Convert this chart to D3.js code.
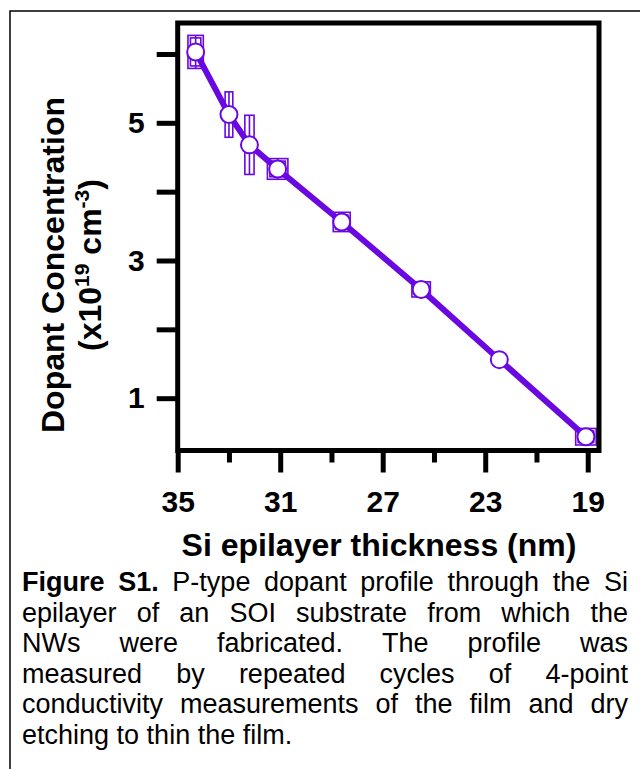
<!DOCTYPE html>
<html lang="en">
<head>
	<meta charset="UTF-8">
	<title>Dopant profile</title>
	<script src="https://d3js.org/d3.v7.min.js"></script>
	<style>
		body, html {
			margin: 0;
			padding: 0;
			background: #fff;
			overflow: hidden;
		}
		svg {
			display: block;
			font-family: "Liberation Sans", Arial, sans-serif;
		}
		.tick line {
			stroke: #000;
		}
		.tick text {
			font-weight: bold;
			fill: #000;
		}
	</style>
</head>
<body>
<div id="chart"></div>
	<script>
		// Values
		const thickness = [34.3, 33.0, 32.2, 31.1, 28.6, 25.5, 22.45, 19.07];
		const concentration = [6.03, 5.12, 4.68, 4.33, 3.56, 2.58, 1.56, 0.44];
		const thicknessErr = [0.3, 0.15, 0.18, 0.4, 0.33, 0.36, 0.2, 0.4];
		const concentrationErr = [0.24, 0.33, 0.43, 0.15, 0.14, 0.11, 0.06, 0.12];

		const xMajorTicks = [35, 31, 27, 23, 19];
		const xMinorTicks = [33, 29, 25, 21];
		const yTicks = [1, 2, 3, 4, 5, 6];
		const yLabelled = [1, 3, 5];

		const captionLines = [
			"Figure S1. P-type dopant profile through the Si",
			"epilayer of an SOI substrate from which the",
			"NWs were fabricated. The profile was",
			"measured by repeated cycles of 4-point",
			"conductivity measurements of the film and dry",
			"etching to thin the film."
		];

		const width = 640;
		const height = 769;
		const purple = "#6a08e2";

		const svg = d3.select("#chart")
			.append("svg")
			.attr("width", width)
			.attr("height", height);

		// outer figure border (runs off the right and bottom edges)
		svg.append("rect")
			.attr("x", 10)
			.attr("y", 11)
			.attr("width", 700)
			.attr("height", 800)
			.attr("fill", "none")
			.attr("stroke", "#000")
			.attr("stroke-width", 1.5);

		const x = d3.scaleLinear().domain([35, 18.56]).range([177.7, 599]);
		const y = d3.scaleLinear().domain([0.24, 6.45]).range([450.5, 23]);

		const data = thickness.map((t, i) => ({
			t: t,
			c: concentration[i],
			te: thicknessErr[i],
			ce: concentrationErr[i]
		}));

		// x axis: long major ticks with labels, short minor ticks
		const xAxis = svg.append("g")
			.attr("transform", `translate(0,${y(0.24)})`)
			.call(d3.axisBottom(x)
				.tickValues(xMajorTicks)
				.tickSize(22)
				.tickPadding(18)
				.tickFormat(d3.format("d")));

		svg.append("g")
			.attr("transform", `translate(0,${y(0.24)})`)
			.call(d3.axisBottom(x)
				.tickValues(xMinorTicks)
				.tickSize(12)
				.tickFormat(""));

		const yAxis = svg.append("g")
			.attr("transform", `translate(${x(35)},0)`)
			.call(d3.axisLeft(y)
				.tickValues(yTicks)
				.tickSize(21)
				.tickPadding(12)
				.tickFormat(d => yLabelled.includes(d) ? d : ""));

		svg.selectAll(".domain").remove();
		svg.selectAll(".tick line").attr("stroke-width", 5);
		xAxis.selectAll(".tick text").attr("font-size", 30);
		yAxis.selectAll(".tick text").attr("font-size", 30);

		// data line
		svg.append("path")
			.datum(data)
			.attr("fill", "none")
			.attr("stroke", purple)
			.attr("stroke-width", 6)
			.attr("stroke-linejoin", "round")
			.attr("d", d3.line().x(d => x(d.t)).y(d => y(d.c)));

		// error boxes: outline box with a centre line, wide ones get a second inner outline
		// (x axis runs from thick to thin, so the left edge is t + te)
		const err = svg.append("g")
			.attr("fill", "none")
			.attr("stroke", purple)
			.attr("stroke-width", 1.6);

		const boxX = d => x(d.t + d.te);
		const boxY = d => y(d.c + d.ce);
		const boxW = d => x(d.t - d.te) - x(d.t + d.te);
		const boxH = d => y(d.c - d.ce) - y(d.c + d.ce);

		err.selectAll(null)
			.data(data)
			.enter()
			.append("rect")
			.attr("x", boxX)
			.attr("y", boxY)
			.attr("width", boxW)
			.attr("height", boxH);

		err.selectAll(null)
			.data(data.filter(d => boxW(d) > 14 && boxH(d) > 14))
			.enter()
			.append("rect")
			.attr("x", d => boxX(d) + 2.5)
			.attr("y", d => boxY(d) + 2.5)
			.attr("width", d => boxW(d) - 5)
			.attr("height", d => boxH(d) - 5);

		err.selectAll(null)
			.data(data)
			.enter()
			.append("line")
			.attr("x1", d => x(d.t))
			.attr("x2", d => x(d.t))
			.attr("y1", d => y(d.c + d.ce))
			.attr("y2", d => y(d.c - d.ce));

		// markers
		svg.append("g")
			.selectAll("circle")
			.data(data)
			.enter()
			.append("circle")
			.attr("cx", d => x(d.t))
			.attr("cy", d => y(d.c))
			.attr("r", 8.5)
			.attr("fill", "#fff")
			.attr("stroke", purple)
			.attr("stroke-width", 2);

		// plot frame
		svg.append("rect")
			.attr("x", x(35))
			.attr("y", y(6.45))
			.attr("width", x(18.56) - x(35))
			.attr("height", y(0.24) - y(6.45))
			.attr("fill", "none")
			.attr("stroke", "#000")
			.attr("stroke-width", 5);

		// axis titles
		svg.append("text")
			.attr("x", 379)
			.attr("y", 556)
			.attr("text-anchor", "middle")
			.attr("font-size", 32)
			.attr("font-weight", "bold")
			.text("Si epilayer thickness (nm)");

		svg.append("text")
			.attr("transform", "translate(64,265) rotate(-90)")
			.attr("text-anchor", "middle")
			.attr("font-size", 32)
			.attr("font-weight", "bold")
			.text("Dopant Concentration");

		const unit = svg.append("text")
			.attr("transform", "translate(101,265) rotate(-90)")
			.attr("text-anchor", "middle")
			.attr("font-size", 32)
			.attr("font-weight", "bold");
		unit.append("tspan").text("(x10");
		unit.append("tspan").attr("font-size", 21).attr("dy", -12).text("19");
		unit.append("tspan").attr("dy", 12).text(" cm");
		unit.append("tspan").attr("font-size", 21).attr("dy", -12).text("-3");
		unit.append("tspan").attr("dy", 12).text(")");

		// caption, justified between the margins
		const capLeft = 22;
		const capRight = 628;
		captionLines.forEach((line, i) => {
			const words = line.split(" ");
			const baseY = 591 + i * 30.6;
			const nodes = words.map((w, j) => svg.append("text")
				.attr("y", baseY)
				.attr("font-size", 27)
				.attr("font-weight", i === 0 && j < 2 ? "bold" : "normal")
				.text(w));
			const widths = nodes.map(n => n.node().getComputedTextLength());
			const total = d3.sum(widths);
			const last = i === captionLines.length - 1;
			const gap = last ? 7.5 : (capRight - capLeft - total) / (words.length - 1);
			let cx = capLeft;
			nodes.forEach((n, j) => {
				n.attr("x", cx);
				cx += widths[j] + gap;
			});
		});
	</script>
</body>
</html>
